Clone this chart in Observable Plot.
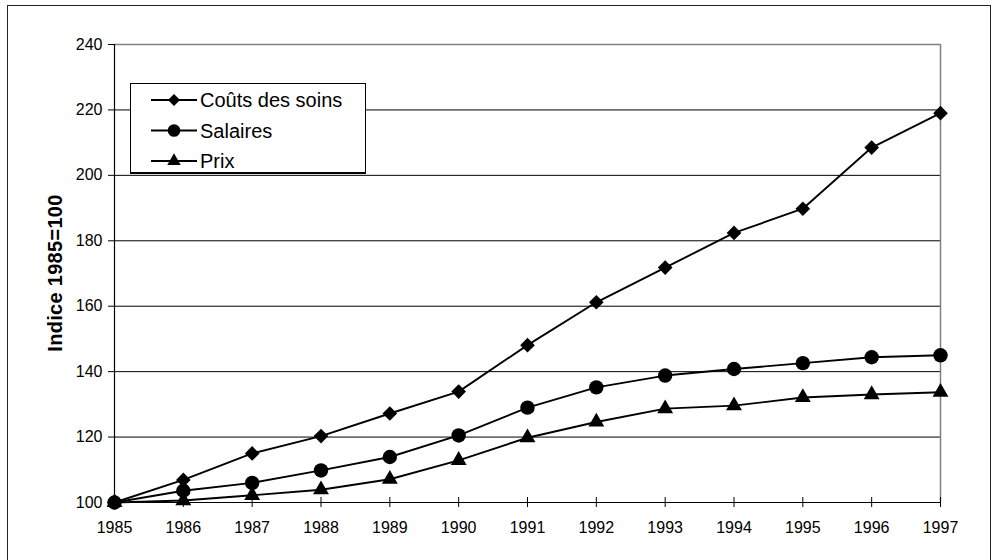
<!DOCTYPE html>
<html>
<head>
<meta charset="utf-8">
<script src="https://cdn.jsdelivr.net/npm/d3@7"></script>
<script src="https://cdn.jsdelivr.net/npm/@observablehq/plot@0.6"></script>
<style>
  html, body { margin: 0; padding: 0; background: #fff; }
  #wrap { position: relative; width: 998px; height: 560px; overflow: hidden; font-family: "Liberation Sans", Arial, sans-serif; }
  #frame { position: absolute; left: 7px; top: 5px; width: 984px; height: 620px; border: 1.5px solid #222; box-sizing: border-box; }
  #chart { position: absolute; left: 0; top: 0; }
  #chart svg text { font-size: 16px; font-family: "Liberation Sans", Arial, sans-serif; fill: #000; }
  #ylabel { position: absolute; left: 55px; top: 273px; transform: translate(-50%, -50%) rotate(-90deg); font-weight: bold; font-size: 20px; letter-spacing: 0.3px; white-space: nowrap; color: #000; }
  #legend { position: absolute; left: 130px; top: 83px; width: 236px; height: 91px; border: 1px solid #000; border-bottom-width: 2px; background: #fff; box-sizing: border-box; }
</style>
</head>
<body>
<div id="wrap">
  <div id="frame"></div>
  <div id="chart"></div>
  <div id="ylabel"></div>
  <div id="legend"></div>
</div>
<script>
const years = [1985, 1986, 1987, 1988, 1989, 1990, 1991, 1992, 1993, 1994, 1995, 1996, 1997];
const couts = [100, 106.9, 115.0, 120.3, 127.2, 133.9, 148.1, 161.2, 171.8, 182.4, 189.8, 208.5, 219.0];
const salaires = [100, 103.6, 106.0, 109.8, 113.9, 120.5, 129.0, 135.2, 138.8, 140.8, 142.6, 144.4, 145.0];
const prix = [100, 100.6, 102.2, 103.9, 107.1, 112.9, 119.8, 124.6, 128.7, 129.6, 132.1, 133.0, 133.7];
const seriesNames = ["Coûts des soins", "Salaires", "Prix"];
const seriesSymbols = ["diamond2", "circle", "triangle"];
const seriesR = [6.6, 7.2, 5.9];
const legendR = [5.4, 6.3, 5.0];
const yTicks = [100, 120, 140, 160, 180, 200, 220, 240];
const yLabel = "Indice 1985=100";

const seriesValues = [couts, salaires, prix];
const rows = [];
seriesNames.forEach((name, s) => {
  years.forEach((yr, i) => rows.push({series: name, year: yr, value: seriesValues[s][i]}));
});

const font = "'Liberation Sans', Arial, sans-serif";

const marks = [
  Plot.ruleY(yTicks.slice(1, -1), {stroke: "#000", strokeWidth: 1}),
  Plot.ruleY([yTicks[yTicks.length - 1]], {stroke: "#808080", strokeWidth: 1.5}),
  Plot.ruleX([years[years.length - 1]], {stroke: "#808080", strokeWidth: 1.5}),
  Plot.ruleX([years[0]], {stroke: "#000", strokeWidth: 1.2}),
  Plot.ruleY([yTicks[0]], {stroke: "#000", strokeWidth: 1.2}),
  Plot.axisY({ticks: yTicks, tickSize: 6, tickPadding: 6, fontSize: 16, label: null, stroke: "#000"}),
  Plot.axisX({ticks: years, tickSize: 10, dy: -5, tickFormat: () => "", label: null}),
  Plot.axisX({ticks: years, tickSize: 0, tickPadding: 19, fontSize: 16, tickFormat: d => String(d), label: null})
];
seriesNames.forEach((name, s) => {
  const data = rows.filter(d => d.series === name);
  marks.push(Plot.line(data, {x: "year", y: "value", stroke: "#000", strokeWidth: 1.9}));
});
seriesNames.forEach((name, s) => {
  const data = rows.filter(d => d.series === name);
  marks.push(Plot.dot(data, {x: "year", y: "value", symbol: () => seriesSymbols[s], r: seriesR[s], fill: "#000", stroke: "none"}));
});

const chart = Plot.plot({
  width: 998,
  height: 560,
  marginLeft: 114,
  marginRight: 58,
  marginTop: 44,
  marginBottom: 58,
  style: {fontFamily: font, fontSize: "16px", color: "#000", background: "transparent"},
  x: {domain: [years[0], years[years.length - 1]], axis: null},
  y: {domain: [yTicks[0], yTicks[yTicks.length - 1]], axis: null},
  symbol: {type: "identity"},
  marks
});
document.getElementById("chart").appendChild(chart);
document.getElementById("ylabel").textContent = yLabel;

// Legend
const leg = d3.select("#legend").append("svg").attr("width", 234).attr("height", 88)
  .style("position", "absolute").style("left", "0px").style("top", "0px");
const symMap = {diamond2: d3.symbolDiamond2, circle: d3.symbolCircle, triangle: d3.symbolTriangle};
seriesNames.forEach((name, s) => {
  const cy = 16 + s * 30.5;
  const g = leg.append("g").attr("transform", `translate(0,${cy})`);
  g.append("line").attr("x1", 20).attr("x2", 66).attr("y1", 0).attr("y2", 0).attr("stroke", "#000").attr("stroke-width", 1.8);
  g.append("path").attr("transform", "translate(43,0)")
    .attr("d", d3.symbol(symMap[seriesSymbols[s]], Math.PI * legendR[s] * legendR[s])())
    .attr("fill", "#000");
  g.append("text").attr("x", 69).attr("y", 0).attr("dy", "0.36em")
    .attr("font-family", font).attr("font-size", 20).attr("fill", "#000").text(name);
});
</script>
</body>
</html>
